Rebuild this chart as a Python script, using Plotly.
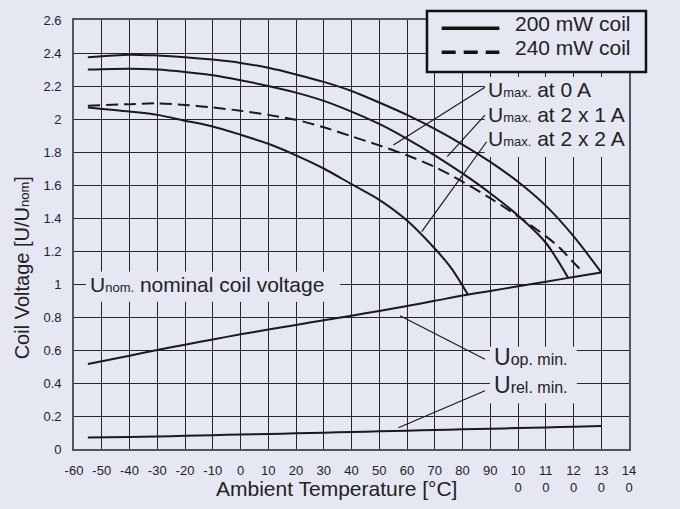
import plotly.graph_objects as go

# ---------------- data ----------------
temps = [-55, -40, -30, -20, -10, 0, 10, 20, 30, 40, 50, 60, 70, 80, 90, 100, 110, 120, 130]
umax_0a = [2.375, 2.39, 2.385, 2.375, 2.36, 2.34, 2.31, 2.27, 2.225, 2.17, 2.10, 2.025, 1.94, 1.845, 1.74, 1.62, 1.475, 1.29, 1.07]

temps_2x1a = [-55, -40, -30, -20, -10, 0, 10, 20, 30, 40, 50, 60, 70, 80, 90, 100, 110, 118]
umax_2x1a = [2.30, 2.305, 2.30, 2.285, 2.265, 2.235, 2.20, 2.16, 2.11, 2.045, 1.97, 1.88, 1.78, 1.67, 1.55, 1.415, 1.25, 1.04]

temps_2x2a = [-55, -40, -30, -20, -10, 0, 10, 20, 30, 40, 50, 60, 70, 76, 82]
umax_2x2a = [2.07, 2.045, 2.025, 1.99, 1.955, 1.905, 1.85, 1.78, 1.70, 1.605, 1.51, 1.385, 1.215, 1.095, 0.935]

temps_240 = [-55, -40, -30, -20, -10, 0, 10, 20, 30, 40, 50, 60, 70, 80, 90, 100, 110, 115, 120, 123]
umax_240 = [2.08, 2.09, 2.095, 2.085, 2.07, 2.05, 2.025, 1.995, 1.95, 1.895, 1.84, 1.78, 1.71, 1.62, 1.52, 1.41, 1.29, 1.22, 1.13, 1.08]

uop_min = [0.515, 0.565, 0.60, 0.632, 0.664, 0.695, 0.724, 0.752, 0.78, 0.808, 0.837, 0.867, 0.898, 0.93, 0.958, 0.986, 1.014, 1.042, 1.07]
urel_min = [0.07, 0.073, 0.076, 0.08, 0.084, 0.088, 0.091, 0.095, 0.099, 0.103, 0.107, 0.111, 0.115, 0.119, 0.123, 0.127, 0.131, 0.135, 0.14]

x_tickvals = [-60, -50, -40, -30, -20, -10, 0, 10, 20, 30, 40, 50, 60, 70, 80, 90, 100, 110, 120, 130, 140]
x_ticktext = ["-60", "-50", "-40", "-30", "-20", "-10", "0", "10", "20", "30", "40", "50", "60", "70", "80", "90",
              "10<br>0", "11<br>0", "12<br>0", "13<br>0", "14<br>0"]
y_tickvals = [0, 0.2, 0.4, 0.6, 0.8, 1.0, 1.2, 1.4, 1.6, 1.8, 2.0, 2.2, 2.4, 2.6]
y_ticktext = ["0", "0.2", "0.4", "0.6", "0.8", "1", "1.2", "1.4", "1.6", "1.8", "2", "2.2", "2.4", "2.6"]

legend_labels = ["200 mW coil", "240 mW coil"]

BG = "#e5e7f3"
INK = "#1a1a1a"
TXT = "#222222"
FONT = "Liberation Sans, Arial, sans-serif"

fig = go.Figure()

def add_line(x, y, dash="solid"):
    fig.add_trace(go.Scatter(x=x, y=y, mode="lines", showlegend=False, hoverinfo="skip",
                             line=dict(color=INK, width=2, dash=dash, shape="spline", smoothing=0.8)))

add_line(temps, umax_0a)
add_line(temps_2x1a, umax_2x1a)
add_line(temps_240, umax_240, dash="12px,6px")
add_line(temps_2x2a, umax_2x2a)
add_line(temps, uop_min)
add_line(temps, urel_min)

shapes = []
# label background boxes (hide grid)
for (x0, x1, y0, y1) in [(88.0, 140.0, 1.77, 2.255), (89.9, 121.2, 0.277, 0.62), (-55.7, 35.9, 0.893, 1.075)]:
    shapes.append(dict(type="rect", xref="x", yref="y", x0=x0, x1=x1, y0=y0, y1=y1,
                       fillcolor=BG, line=dict(width=0), layer="between"))
# leader lines
for (xa, ya, xb, yb) in [(55.1, 1.842, 88.1, 2.192), (74.5, 1.772, 88.1, 2.024), (65.3, 1.317, 88.7, 1.862),
                         (57.5, 0.808, 88.1, 0.544), (56.9, 0.129, 88.1, 0.353)]:
    shapes.append(dict(type="line", xref="x", yref="y", x0=xa, y0=ya, x1=xb, y1=yb,
                       line=dict(color=INK, width=1.2), layer="above"))
# legend box
shapes.append(dict(type="rect", xref="paper", yref="paper", x0=0.636, x1=1.0306, y0=0.8788, y1=1.021,
                   fillcolor=BG, line=dict(color="#111111", width=2.5), layer="above"))
shapes.append(dict(type="line", xref="paper", yref="paper", x0=0.6625, x1=0.7663, y0=0.9807, y1=0.9807,
                   line=dict(color="#111111", width=3.5), layer="above"))
shapes.append(dict(type="line", xref="paper", yref="paper", x0=0.6625, x1=0.7663, y0=0.9247, y1=0.9247,
                   line=dict(color="#111111", width=3.5, dash="14px,8px"), layer="above"))

def sub(s, size):
    return "<span style='font-size:%dpx'>%s</span>" % (size, s)

annotations = [
    dict(x=88.3, y=2.18, text="U" + sub("max.", 13) + " at 0 A"),
    dict(x=88.3, y=2.03, text="U" + sub("max.", 13) + " at 2 x 1 A"),
    dict(x=88.3, y=1.883, text="U" + sub("max.", 13) + " at 2 x 2 A"),
    dict(x=-55.0, y=1.0, text="U" + sub("nom.", 13) + " nominal coil voltage"),
]
annos = []
for a in annotations:
    a.update(xref="x", yref="y", xanchor="left", yanchor="middle", showarrow=False,
             font=dict(family=FONT, size=21, color=TXT))
    annos.append(a)
for (yv, t) in [(0.555, "op. min."), (0.388, "rel. min.")]:
    annos.append(dict(x=90.8, y=yv, xref="x", yref="y", xanchor="left", yanchor="middle", showarrow=False,
                      text="<span style='font-size:23px'>U</span>" + t,
                      font=dict(family=FONT, size=16, color=TXT)))
# legend texts
for (yv, t) in [(0.9914, legend_labels[0]), (0.937, legend_labels[1])]:
    annos.append(dict(x=1.0078, y=yv, xref="paper", yref="paper", xanchor="right", yanchor="middle",
                      showarrow=False, text=t, font=dict(family=FONT, size=21, color=TXT)))
# axis titles
annos.append(dict(x=0.473, y=-0.0916, xref="paper", yref="paper", xanchor="center", yanchor="middle",
                  showarrow=False, text="Ambient Temperature [°C]", font=dict(family=FONT, size=21, color=TXT)))
annos.append(dict(x=-0.093, y=0.422, xref="paper", yref="paper", xanchor="center", yanchor="middle",
                  showarrow=False, textangle=-90, text="Coil Voltage [U/U" + sub("nom", 13) + "]",
                  font=dict(family=FONT, size=20, color=TXT)))

axis_common = dict(showgrid=True, gridcolor="#262626", gridwidth=1.4, zeroline=False,
                   showline=True, linecolor="#555555", linewidth=1.6, mirror=True,
                   ticks="", tickfont=dict(family=FONT, size=13, color=TXT))

fig.update_layout(
    width=680, height=509,
    margin=dict(l=74, r=51, t=20, b=60, pad=0),
    paper_bgcolor=BG, plot_bgcolor=BG,
    showlegend=False,
    xaxis=dict(range=[-60, 140], tickmode="array", tickvals=x_tickvals, ticktext=x_ticktext,
               ticklabelstandoff=9, **axis_common),
    yaxis=dict(range=[0, 2.6], tickmode="array", tickvals=y_tickvals, ticktext=y_ticktext,
               ticklabelstandoff=8, **axis_common),
    shapes=shapes,
    annotations=annos,
)

fig.write_html("out.html")
